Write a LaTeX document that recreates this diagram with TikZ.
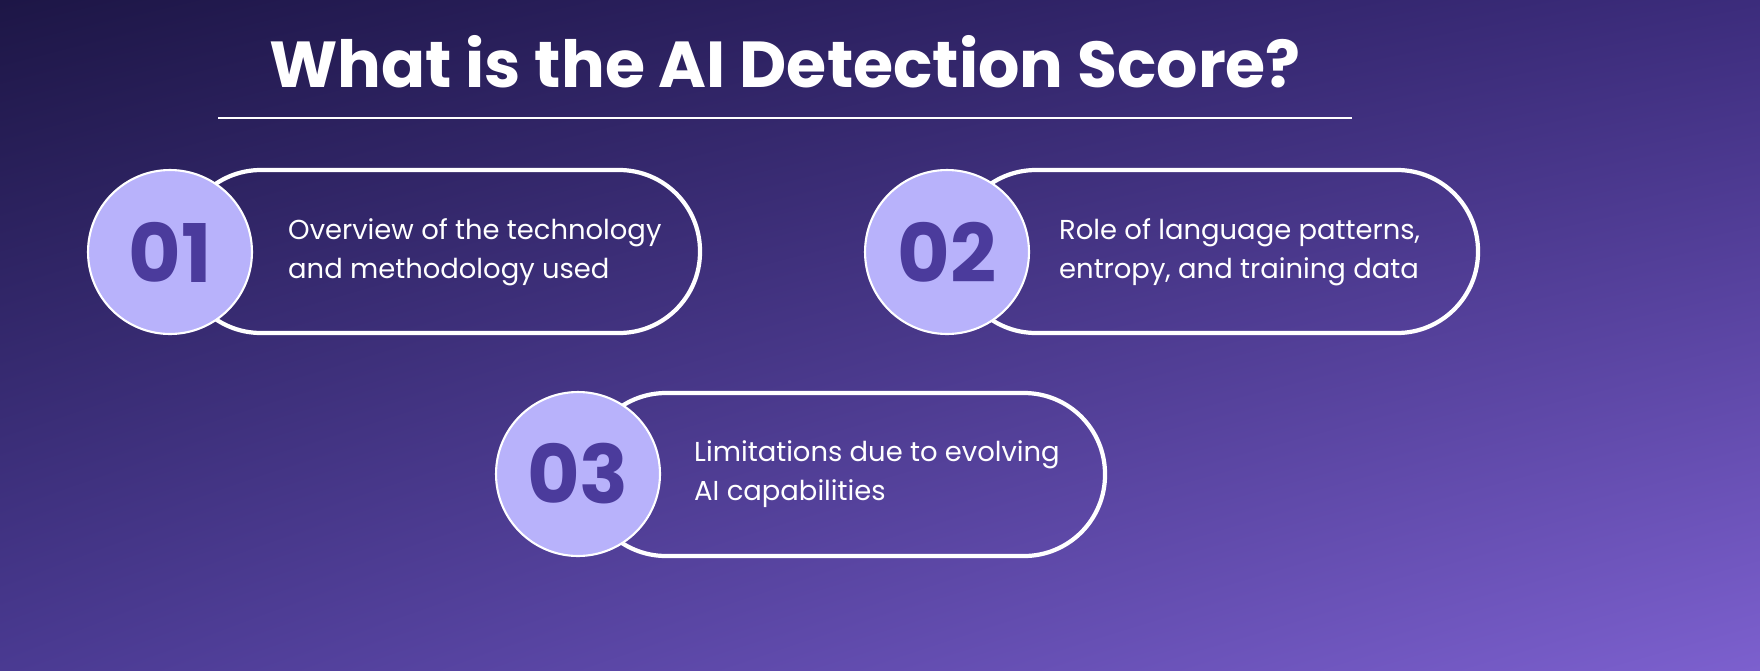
\documentclass[tikz,border=0pt]{standalone}
\usepackage{fontspec}
\setmainfont{Poppins}
\usetikzlibrary{shadings}
\definecolor{fondA}{HTML}{1D1646}
\definecolor{fondB}{HTML}{3C2C7C}
\definecolor{fondC}{HTML}{4A3A92}
\definecolor{fondD}{HTML}{7C60CE}
\definecolor{lavande}{HTML}{B8B2FB}
\definecolor{chiffre}{HTML}{4B3B9C}
\begin{document}
\begin{tikzpicture}[x=0.02cm,y=-0.02cm]

% définition des styles
\tikzstyle{pilule}=[draw=white,line width=2.4pt,rounded corners=1.62cm]
\tikzstyle{cercle}=[circle,fill=lavande,draw=white,line width=1.2pt,minimum size=3.28cm,text=chiffre,font=\fontsize{46}{46}\bfseries\selectfont]
\tikzstyle{texte}=[anchor=west,text=white,align=left,font=\fontsize{15.6}{22}\selectfont]

% le fond
\useasboundingbox (0,0) rectangle (1760,670);
\clip (0,0) rectangle (1760,670);
\shade[upper left=fondA,upper right=fondB,lower left=fondC,lower right=fondD] (0,0) rectangle (1760,670);

% le titre
\node[text=white,font=\fontsize{37}{37}\bfseries\selectfont] (titre) at (785,62) {What is the AI Detection Score?};
\draw[white,line width=1.5pt] (218,118) -- (1352,118);

% les pilules
\draw[pilule] (180,170) rectangle (700,333);
\draw[pilule] (955,170) rectangle (1478,333);
\draw[pilule] (585,393) rectangle (1105,556);

% les cercles
\node[cercle] (c1) at (170,252) {01};
\node[cercle] (c2) at (947,252) {02};
\node[cercle] (c3) at (578,474) {03};

% les textes
\node[texte] (t1) at (282,252) {Overview of the technology\\and methodology used};
\node[texte] (t2) at (1053,252) {Role of language patterns,\\entropy, and training data};
\node[texte] (t3) at (688,474) {Limitations due to evolving\\AI capabilities};

\end{tikzpicture}
\end{document}
